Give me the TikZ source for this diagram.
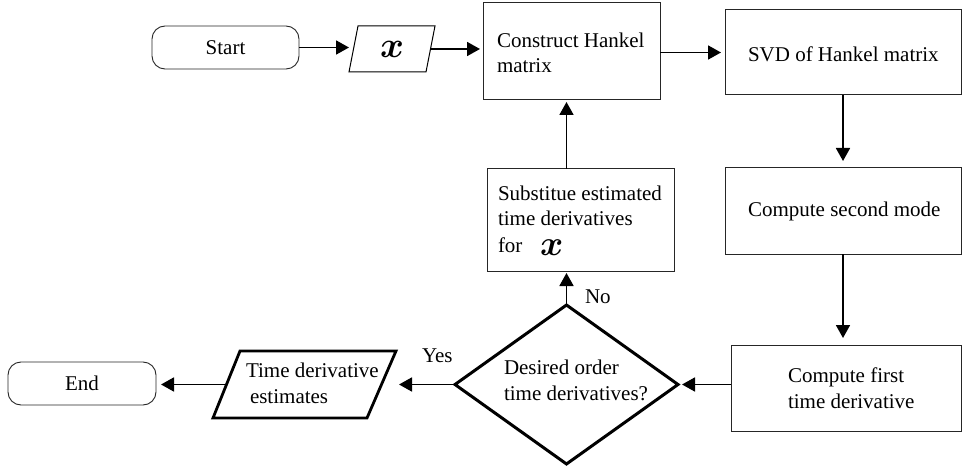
\documentclass[tikz,border=0pt]{standalone}
\usepackage{fontspec}
\setmainfont{Liberation Serif}
\usepackage{bm}
\usepackage{graphicx}
\usetikzlibrary{arrows.meta,shapes.geometric}
\newcommand{\bigx}{\scalebox{1.75}{$\bm{x}$}}
\begin{document}
\begin{tikzpicture}[x=1pt,y=-1pt,
  every node/.style={inner sep=0pt,outer sep=0pt},
  txt/.style={font=\fontsize{21}{25.5}\selectfont, anchor=base west, align=left},
  box/.style={draw=black!85,line width=1pt,rectangle},
  term/.style={draw=black!85,line width=0.9pt,rounded corners=13pt,rectangle,font=\fontsize{21}{26}\selectfont},
  arr/.style={-{Triangle[length=13pt,width=14pt]},line width=1.8pt},
]
\useasboundingbox (0,0) rectangle (962,468);

% nodes
\node[term,minimum width=147pt,minimum height=43pt] (start) at (225.5,47.5) {Start};
\node[minimum width=86pt,minimum height=46pt,font=\fontsize{21}{25.5}\selectfont] (xin) at (392,49) {\bigx};
\draw[line width=1pt] ([xshift=9pt]xin.north west) -- (xin.north east) -- ([xshift=-9pt]xin.south east) -- (xin.south west) -- cycle;

\node[box,minimum width=177pt,minimum height=97pt] (con) at (571.5,51.5) {};
\node[txt] (contxt) at (497,73) {Construct Hankel\\matrix};

\node[box,minimum width=236pt,minimum height=85pt] (svd) at (843,52.5) {};
\node[txt] (svdtxt) at (748,62) {SVD of Hankel matrix};

\node[box,minimum width=236pt,minimum height=86pt] (sec) at (843,211) {};
\node[txt] (sectxt) at (748,217) {Compute second mode};

\node[box,minimum width=230pt,minimum height=86pt] (fir) at (846,388) {};
\node[txt] (firtxt) at (788,408) {Compute first\\time derivative};

\node[box,minimum width=187pt,minimum height=102pt] (sub) at (580.5,220) {};
\node[txt] (subtxt) at (498,252) {Substitue estimated\\time derivatives\\[1pt]for};
\node[font=\fontsize{21}{25.5}\selectfont,anchor=base west] (subx) at (540,255) {\scalebox{1.7}{$\bm{x}$}};

\node[diamond,draw,line width=3pt,minimum width=223pt,minimum height=159pt] (dia) at (566.5,384.5) {};
\node[txt] (diatxt) at (504,400) {Desired order\\time derivatives?};

\node[minimum width=183pt,minimum height=67pt] (tde) at (304.5,384.5) {};
\draw[line width=2.8pt,line join=miter] ([xshift=27pt]tde.north west) -- (tde.north east) -- ([xshift=-29pt]tde.south east) -- (tde.south west) -- cycle;
\node[txt] (tdetxt) at (246,403) {Time derivative\\\hspace*{4pt}estimates};

\node[term,minimum width=148pt,minimum height=43pt] (end) at (82,383.5) {End};

\node[txt] (yes) at (422,362) {Yes};
\node[txt] (no) at (585,303) {No};

% connectors
\draw[arr] (start.east) -- (start.east -| xin.west);
\draw[arr,shorten >=3pt] ([xshift=-4.5pt]xin.east) -- (xin.east -| con.west);
\draw[arr,shorten >=4pt] (con.east |- svd.west) -- (svd.west);
\draw[arr,shorten >=7pt] (svd.south) -- (sec.north);
\draw[arr,shorten >=7pt] (sec.south) -- (sec.south |- fir.north);
\draw[arr,shorten >=4pt] (fir.west |- dia.east) -- (dia.east);
\draw[arr,shorten >=2pt] (dia.north) -- (dia.north |- sub.south);
\draw[arr,shorten >=2pt] (sub.north -| dia.north) -- (con.south -| dia.north);
\draw[arr,shorten >=3pt] (dia.west) -- (tde.east);
\draw[arr,shorten >=5pt] ([xshift=13.5pt]tde.west) -- (end.east |- tde.west);
\end{tikzpicture}
\end{document}
